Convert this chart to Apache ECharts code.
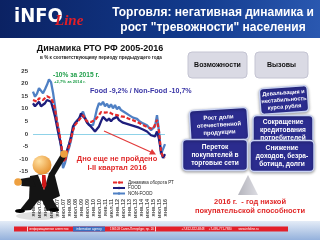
<!DOCTYPE html>
<html><head><meta charset="utf-8">
<script src="https://cdn.jsdelivr.net/npm/echarts@6/dist/echarts.min.js"></script>
<style>html,body{margin:0;padding:0;background:#fff}#c{width:320px;height:240px}</style>
</head><body><div id="c"></div>
<script>
const categories = ['янв.05','мар.05','май.05','июл.05','сен.05','ноя.05',
'янв.06','мар.06','май.06','июл.06','сен.06','ноя.06',
'янв.07','мар.07','май.07','июл.07','сен.07','ноя.07',
'янв.08','мар.08','май.08','июл.08','сен.08','ноя.08',
'янв.09','мар.09','май.09','июл.09','сен.09','ноя.09',
'янв.10','мар.10','май.10','июл.10','сен.10','ноя.10',
'янв.11','мар.11','май.11','июл.11','сен.11','ноя.11',
'янв.12','мар.12','май.12','июл.12','сен.12','ноя.12',
'янв.13','мар.13','май.13','июл.13','сен.13','ноя.13',
'янв.14','мар.14','май.14','июл.14','сен.14','ноя.14',
'янв.15','мар.15','май.15','июл.15','сен.15','ноя.15','янв.16'];
const retailTotal = [13.5,12.8,12.8,14.2,14,13.5,13.5,15,15.5,14.2,12.5,10,5,1,-3.5,-10,-11,-7,-5,-2,1.5,3.5,4.5,5.5,6.5,7.5,6,5,4.5,4.8,4.8,5.5,6.5,7.5,8.7,9,8.5,8.2,8.7,8,7.8,8.2,7.5,7.8,7,7.5,6.8,6.5,6,5.5,5.5,5,4.8,4.5,4,3.5,3.2,2.8,2.5,2.2,2,2.5,5.6,1,-7,-9,-9.5];
const food = [12.2,11,10.8,12.8,11,11.5,12.2,13.5,14.2,12.8,10,7,3,-1,-4.5,-8.5,-10,-6.5,-4,-1,3,4.2,4.9,6,8.2,7,6.2,4.5,4,2.9,2,1,1.5,3,5,6.8,6,5.2,6.2,5,6,6.5,6.8,5.5,5,4.5,5,4,4.5,3.5,4,3,3.5,2.5,2.8,1.8,2.2,1,0.5,-0.5,0.2,-1,1,-2,-7,-9.5,-8];
const nonFood = [16.8,14.8,16,18.2,17.5,16.2,17.8,19.5,21.7,20.6,16.5,11,5,0.8,-5,-13.5,-11.5,-8,-5.5,-2.5,1.5,4.5,5,6.2,7.2,8.9,6.5,5,3.5,2.8,3.5,6.5,10,12.3,11.5,12.8,11,12,10.5,11.8,10.2,11.5,9.8,10.8,9.5,10,8.5,9,7.5,7.8,6.5,6.8,6,5.2,5.5,4.2,4.5,3.5,2.8,1.5,0.8,3,7.5,1,-8,-6,-4];
const seriesNames = ['Динамика оборота РТ','FOOD','NON-FOOD'];
const yMin = -25, yMax = 25, yStep = 5;

const F = 'Liberation Sans, Arial, sans-serif';
const chart = echarts.init(document.getElementById('c'), null, {renderer:'canvas'});

function box(cx, cy, w, h, rot, text, fs, lh) {
  return {type:'group', x:cx, y:cy, rotation:rot, z:50, children:[
    {type:'rect', shape:{x:-w/2, y:-h/2, width:w, height:h, r:4},
     style:{fill:'#2b2c8e', stroke:'#c9d3f2', lineWidth:1.5, shadowBlur:3, shadowColor:'rgba(0,0,0,0.35)', shadowOffsetY:1}},
    {type:'text', x:0, y:0, style:{text:text, fill:'#fff', font:'bold '+fs+'px '+F, align:'center', verticalAlign:'middle', lineHeight:lh}}
  ]};
}
function grayBox(cx, cy, w, h, text) {
  return {type:'group', x:cx, y:cy, z:50, children:[
    {type:'rect', shape:{x:-w/2, y:-h/2, width:w, height:h, r:4},
     style:{fill:'#dadae4', stroke:'#c4c4d2', lineWidth:1}},
    {type:'text', x:0, y:0, style:{text:text, fill:'#111', font:'bold 7px '+F, align:'center', verticalAlign:'middle'}}
  ]};
}
const blk = '#141414', skin = '#eea040';
const graphic = [
  // header
  {type:'rect', z:1, shape:{x:0,y:0,width:320,height:38}, style:{fill:new echarts.graphic.LinearGradient(0,0,1,0.4,[{offset:0,color:'#0b2263'},{offset:0.6,color:'#123a8c'},{offset:1,color:'#2a58b0'}])}},
  {type:'text', z:2, x:14, y:17, style:{text:'iNFO', fill:'#fff', font:'bold 20px "Liberation Sans Narrow", "DejaVu Sans Condensed", sans-serif', verticalAlign:'middle'}},
  {type:'text', z:2, x:55, y:21, style:{text:'Line', fill:'#e41e26', font:'italic bold 15px "Liberation Serif", serif', verticalAlign:'middle'}},
  {type:'text', z:2, x:213, y:20.5, style:{text:'Торговля: негативная динамика и\nрост "тревожности" населения', fill:'#fff', font:'bold 12px '+F, align:'center', verticalAlign:'middle', lineHeight:15}},
  // chart titles
  {type:'text', z:5, x:100, y:49, style:{text:'Динамика РТО РФ 2005-2016', fill:'#111', font:'bold 9px '+F, align:'center', verticalAlign:'middle'}},
  {type:'text', z:5, x:101, y:58, style:{text:'в % к соответствующему периоду предыдущего года', fill:'#222', font:'bold 4.6px '+F, align:'center', verticalAlign:'middle'}},
  // annotations
  {type:'text', z:60, x:53, y:75, style:{text:'-10% за 2015 г.', fill:'#22a04c', font:'bold 6.6px '+F, verticalAlign:'middle'}},
  {type:'text', z:60, x:54, y:82, style:{text:'+2,7% за 2014 г.', fill:'#22a04c', font:'bold 4.2px '+F, verticalAlign:'middle'}},
  {type:'text', z:60, x:90, y:91, style:{text:'Food -9,2% / Non-Food -10,7%', fill:'#3a36a6', font:'bold 7.1px '+F, verticalAlign:'middle'}},
  {type:'line', z:60, shape:{x1:104,y1:131,x2:153,y2:153}, style:{stroke:'#e23a3a', lineWidth:1.2}},
  {type:'polygon', z:60, shape:{points:[[156,154.5],[149,154.5],[152,149]]}, style:{fill:'#e23a3a'}},
  {type:'text', z:60, x:117, y:159, style:{text:'Дно еще не пройдено', fill:'#e02828', font:'bold 7.5px '+F, align:'center', verticalAlign:'middle'}},
  {type:'text', z:60, x:117, y:168, style:{text:'I-II квартал 2016', fill:'#e02828', font:'bold 7.5px '+F, align:'center', verticalAlign:'middle'}},
  // businessman figure
  {type:'ellipse', z:70, shape:{cx:38,cy:216,rx:22,ry:4}, style:{fill:'rgba(0,0,0,0.12)'}},
  {type:'polygon', z:71, shape:{points:[[31,196],[41,197],[31,210],[19,211]]}, style:{fill:blk}},
  {type:'polygon', z:71, shape:{points:[[40,196],[51,196],[58,209],[47,211]]}, style:{fill:blk}},
  {type:'ellipse', z:71, shape:{cx:20,cy:211,rx:5,ry:2}, style:{fill:'#000'}},
  {type:'ellipse', z:71, shape:{cx:54,cy:210,rx:5,ry:2}, style:{fill:'#000'}},
  {type:'polygon', z:72, shape:{points:[[30,176],[54,172],[60,196],[49,201],[29,200]]}, style:{fill:blk}},
  {type:'polygon', z:73, shape:{points:[[38,175],[49,173],[44,190]]}, style:{fill:'#fff'}},
  {type:'polygon', z:74, shape:{points:[[42,175],[45.5,175],[46.5,185],[44,190],[42,185]]}, style:{fill:'#d01818'}},
  {type:'polygon', z:72, shape:{points:[[47,177],[55,175],[66,157],[61,154]]}, style:{fill:blk}},
  {type:'circle', z:73, shape:{cx:64,cy:154,r:3.8}, style:{fill:skin}},
  {type:'polygon', z:72, shape:{points:[[32,177],[36,187],[22,186],[20,179]]}, style:{fill:blk}},
  {type:'circle', z:73, shape:{cx:18,cy:182,r:3.8}, style:{fill:skin}},
  {type:'circle', z:75, shape:{cx:42,cy:165,r:9.5}, style:{fill:new echarts.graphic.RadialGradient(0.35,0.3,0.8,[{offset:0,color:'#ffe0a0'},{offset:1,color:'#e48a24'}])}},
  // right side
  grayBox(217.5, 65, 59, 26, 'Возможности'),
  grayBox(281.5, 65, 53, 26, 'Вызовы'),
  box(284, 100, 48, 26, 0.07, 'Девальвация и\nнестабильность\nкурса рубля', 5.6, 7),
  box(283, 130, 60, 29, 0, 'Сокращение\nкредитования\nпотребителей', 6.6, 8),
  box(282, 156, 64, 31, 0, 'Снижение\nдоходов, безра-\nботица, долги', 6.6, 8),
  box(219, 125, 58, 32, 0.06, 'Рост доли\nотечественной\nпродукции', 6, 7.5),
  box(215, 155, 65, 31, 0, 'Переток\nпокупателей в\nторговые сети', 6.6, 8),
  {type:'polygon', z:40, shape:{points:[[248,175],[238,195],[258,195]]}, style:{fill:new echarts.graphic.LinearGradient(0,0,1,0,[{offset:0,color:'#b4b4bc'},{offset:1,color:'#dcdce2'}])}},
  {type:'text', z:40, x:250, y:202, style:{text:'2016 г.  - год низкой', fill:'#e02828', font:'bold 7.5px '+F, align:'center', verticalAlign:'middle'}},
  {type:'text', z:40, x:250, y:211, style:{text:'покупательской способности', fill:'#e02828', font:'bold 7.5px '+F, align:'center', verticalAlign:'middle'}},
  // footer
  {type:'rect', z:80, shape:{x:0,y:221,width:320,height:19}, style:{fill:new echarts.graphic.LinearGradient(0,0,0,1,[{offset:0,color:'#e4ecf7'},{offset:1,color:'#94b1dc'}])}},
  {type:'rect', z:81, shape:{x:14,y:226.5,width:274,height:5}, style:{fill:'#e3202a'}},
  {type:'rect', z:82, shape:{x:73,y:226.5,width:32,height:5}, style:{fill:'#3a6cc0'}},
  {type:'rect', z:82, shape:{x:27,y:226.5,width:0.8,height:5}, style:{fill:'#fff'}},
  {type:'rect', z:82, shape:{x:155,y:226.5,width:0.8,height:5}, style:{fill:'#fff'}},
  {type:'text', z:83, x:49, y:229, style:{text:'информационное агентство', fill:'#fff', font:'3px '+F, align:'center', verticalAlign:'middle'}},
  {type:'text', z:83, x:89, y:229, style:{text:'information agency', fill:'#fff', font:'3px '+F, align:'center', verticalAlign:'middle'}},
  {type:'text', z:83, x:132, y:229, style:{text:'190103 Санкт-Петербург, пр. 20', fill:'#fff', font:'3px '+F, align:'center', verticalAlign:'middle'}},
  {type:'text', z:83, x:220, y:229, style:{text:'+7-812-322-6848     +7-495-771-7880        www.infoline.ru', fill:'#fff', font:'3px '+F, align:'center', verticalAlign:'middle'}}
];

chart.setOption({
  animation:false,
  backgroundColor:'#fff',
  textStyle:{fontFamily:F},
  grid:{left:33, top:71, width:132, height:126, containLabel:false},
  legend:{data:seriesNames, orient:'vertical', left:112, top:180, itemWidth:12, itemHeight:3, itemGap:0.5, padding:0, z:65,
    textStyle:{fontSize:4.5, color:'#222', padding:[0,0,0,-2]}},
  xAxis:{type:'category', data:categories, boundaryGap:false,
    axisLine:{show:false}, axisTick:{show:false}, splitLine:{show:false},
    axisLabel:{rotate:90, interval:2, fontSize:5.5, fontWeight:'bold', color:'#555', margin:2}},
  yAxis:{type:'value', min:yMin, max:yMax, interval:yStep,
    axisLine:{show:false}, axisTick:{show:false}, splitLine:{show:false},
    axisLabel:{fontSize:6, fontWeight:'bold', color:'#333', margin:5,
      formatter:function(v){ return v === yMin ? '' : String(v); }}},
  series:[
    {name:seriesNames[2], type:'line', data:nonFood, symbol:'none', z:10,
      lineStyle:{color:'#4f80c4', width:2.3}, itemStyle:{color:'#4f80c4'},
      markLine:{silent:true, symbol:'none', label:{show:false}, data:[{yAxis:0}], lineStyle:{color:'#8fd2e8', type:'solid', width:1}}},
    {name:seriesNames[1], type:'line', data:food, symbol:'none', z:11,
      lineStyle:{color:'#1e1e7c', width:2.3}, itemStyle:{color:'#1e1e7c'}},
    {name:seriesNames[0], type:'line', data:retailTotal, symbol:'none', z:12,
      lineStyle:{color:'#e52a2a', width:2.2, type:[4,2]}, itemStyle:{color:'#e52a2a'}}
  ],
  graphic:graphic
});
</script></body></html>
